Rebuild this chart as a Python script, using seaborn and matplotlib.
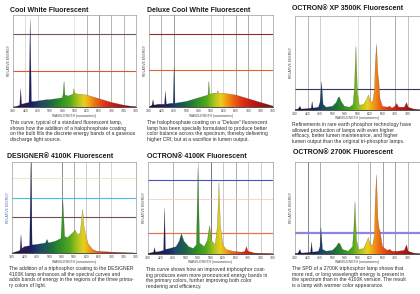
import numpy as np
import matplotlib.pyplot as plt
from matplotlib.colors import LinearSegmentedColormap
import seaborn as sns

sns.set_style("white")
plt.rcParams['font.family'] = ['Liberation Sans', 'DejaVu Sans']

# ---- spectra (wavelength nm, relative power % of plot height) ----
COOL_WL = [380, 395, 402, 405, 408, 420, 432, 436, 440, 450, 470, 490, 500, 520, 540, 543, 546, 549, 560,
           575, 578, 581, 590, 600, 620, 640, 660, 680, 700, 720, 740, 760, 780]
COOL_PW = [0, 1, 2, 20, 3, 4, 5, 95, 6, 6, 7, 8, 8, 9, 10, 14, 28, 13, 12,
           14, 20, 15, 14, 14, 13, 11, 9, 7, 5, 3.5, 2, 1, 0.5]

DELUXE_WL = [380, 390, 393, 396, 410, 430, 433, 436, 450, 458, 461, 464, 480, 500, 520, 540, 560, 570, 573,
             576, 590, 599, 602, 605, 620, 640, 660, 680, 700, 720, 740, 760, 780]
DELUXE_PW = [0, 2, 8, 2, 3, 3, 17, 3, 4, 4, 44, 4, 5, 6, 8, 10, 12, 13, 28,
             14, 15, 15, 18, 15, 15, 14, 13, 11, 9, 7, 5, 3, 1]

XP35_WL = [380, 390, 396, 400, 420, 432, 435, 438, 455, 460, 465, 470, 480, 500, 512, 518, 522, 528, 538, 555,
           566, 570, 575, 580, 586, 600, 610, 615, 620, 628, 634, 637, 641, 645, 648, 652, 660, 675, 684, 690,
           700, 705, 712, 730, 737, 742, 760, 780]
XP35_PW = [0.5, 1, 4, 1, 1.5, 2, 9, 2, 3, 8, 30, 6, 3, 4, 8, 13, 14, 9, 4, 3,
           6, 22, 68, 18, 5, 6, 12, 16, 10, 8, 20, 50, 70, 40, 31, 12, 4, 3, 4, 2,
           4, 7, 3, 3, 8, 3, 1, 0.5]

DES41_WL = [380, 400, 406, 409, 412, 420, 437, 441, 445, 450, 470, 488, 493, 498, 520, 538, 544, 550, 560,
            575, 584, 592, 600, 604, 608, 612, 618, 626, 640, 653, 700, 780]
DES41_PW = [0, 2, 3, 20, 5, 7, 8, 99, 9, 9, 10, 11, 15, 11, 13, 16, 59, 18, 17,
            22, 25, 20, 22, 35, 48, 30, 20, 10, 4, 2, 1, 0]

OCT41_WL = [380, 398, 401, 404, 420, 430, 433, 436, 450, 470, 480, 487, 495, 510, 525, 535, 540, 545, 560,
            570, 577, 585, 595, 602, 607, 612, 620, 630, 650, 680, 690, 695, 700, 720, 780]
OCT41_PW = [0.5, 2, 7, 2, 3, 4, 50, 5, 6, 8, 14, 22, 14, 8, 6, 10, 93, 12, 8,
            15, 31, 14, 10, 30, 78, 30, 10, 5, 3, 2, 3, 8, 3, 1, 0.5]

OCT27_WL = [380, 390, 396, 400, 420, 430, 433, 436, 455, 460, 463, 468, 480, 500, 512, 519, 524, 532, 550,
            564, 568, 572, 577, 584, 600, 610, 615, 620, 628, 634, 637, 641, 645, 649, 652, 660, 675, 684, 690,
            710, 730, 737, 742, 760, 780]
OCT27_PW = [0.5, 1, 5, 1, 1.5, 2, 13, 2, 3, 8, 29, 5, 3, 4, 8, 12, 11, 5, 3,
            8, 25, 57, 15, 5, 6, 14, 18, 11, 9, 20, 60, 86, 40, 28, 25, 8, 4, 5, 3,
            3, 4, 10, 3, 1, 0.5]

TITLES = ["Cool White Fluorescent", "Deluxe Cool White Fluorescent", "OCTRON\u00ae XP 3500K Fluorescent",
          "DESIGNER\u00ae 4100K Fluorescent", "OCTRON\u00ae 4100K Fluorescent", "OCTRON\u00ae 2700K Fluorescent"]

CAPTIONS = [
    "This curve, typical of a standard fluorescent lamp,\nshows how the addition of a halophosphate coating\n"
    "on the bulb fills the discrete energy bands of a gaseous\ndischarge light source.",
    "The halophosphate coating on a \u201cDeluxe\u201d fluorescent\nlamp has been specially formulated to produce better\n"
    "color balance across the spectrum, thereby delivering\nhigher CRI, but at a sacrifice in lumen output.",
    "Refinements in rare earth phosphor technology have\nallowed production of lamps with even higher\n"
    "efficacy, better lumen maintenance, and higher\nlumen output than the original tri-phosphor lamps.",
    "The addition of a triphosphor coating to the DESIGNER\n4100K lamp enhances all the spectral curves and\n"
    "adds bands of energy in the regions of the three prima-\nry colors of light.",
    "This curve shows how an improved triphosphor coat-\ning produces even more pronounced energy bands in\n"
    "the primary colors, further improving both color\nrendering and efficiency.",
    "The SPD of a 2700K triphosphor lamp shows that\nmore red, or long wavelength energy is present in\n"
    "the spectrum than in the 4100K version. The result\nis a lamp with warmer color appearance.",
]

TICKS = [380, 420, 460, 500, 540, 580, 620, 660, 700, 740, 780]

# rainbow used under the curves
SPEC = LinearSegmentedColormap.from_list('spd', [
    (0.000, '#140a22'), (0.075, '#2c1850'), (0.150, '#1a2060'), (0.225, '#1c4a66'),
    (0.300, '#1d6448'), (0.375, '#2a8a28'), (0.4625, '#50a820'), (0.525, '#a8c41c'),
    (0.580, '#e8d020'), (0.625, '#f0a012'), (0.675, '#ee6a14'), (0.750, '#dc3414'),
    (0.850, '#c01414'), (1.000, '#7a1010')])

# [left, top, right, bottom] in pixels of the page
BOXES = [(13, 15, 136, 107), (149, 15, 273, 107), (295, 16, 420, 110),
         (12, 162, 136, 253), (148, 162, 273, 254), (295, 162, 420, 254)]
TITLE_XY = [(10, 10), (147, 10), (292, 9), (7, 157), (147, 156), (293, 152)]
CAP_XY = [(10, 120), (147, 120), (292, 122), (9, 266), (146, 267), (292, 266)]
HLINES = [[(79, '#6e5858', 0.8), (39, '#d85a34', 0.8)],
          [(79, '#8e2c2c', 0.8), (40, '#e2642c', 0.8)],
          [(22, '#3c3258', 0.8)],
          [(82, '#ece4a8', 0.6), (60, '#44c2e2', 0.8), (40, '#6e5050', 0.8)],
          [(80, '#4454c4', 0.8), (60, '#f0c8b0', 0.5), (23, '#e27452', 0.9)],
          [(23, '#8a86e6', 1.6)]]
VLINES = [{420: '#d8d8d8', 460: '#d0d0d0', 580: '#e4e4e4', 620: '#a8a8a8', 660: '#888888', 700: '#a8a8a8', 740: '#b0b0b0'},
          {420: '#a8a8a8', 460: '#909090', 580: '#c8c8c8', 620: '#d0d0d0', 660: '#9a9a9a', 700: '#a0a0a0', 740: '#b4b4b4'},
          {420: '#a8a8a8', 460: '#c8c8c8', 580: '#d8d8d8', 620: '#a0a0a0', 700: '#a0a0a0', 740: '#b8b8b8'},
          {440: '#707070', 540: '#787878', 580: '#a0a0a0', 620: '#c8c8c8', 660: '#a8a8a8', 700: '#d0d0d0'},
          {460: '#a8a8a8', 540: '#c8c8c8', 580: '#606060', 620: '#c0c0c0', 660: '#a0a0a0', 700: '#c0c0c0', 740: '#c8c8c8'},
          {420: '#707070', 460: '#a0a0a0', 580: '#c8c8c8', 620: '#a0a0a0', 660: '#909090', 700: '#909090', 740: '#b0b0b0'}]

SERIES = [(COOL_WL, COOL_PW), (DELUXE_WL, DELUXE_PW), (XP35_WL, XP35_PW),
          (DES41_WL, DES41_PW), (OCT41_WL, OCT41_PW), (OCT27_WL, OCT27_PW)]

W, H = 420, 294
fig = plt.figure(figsize=(W / 100, H / 100), dpi=100, facecolor='white')

for i, (wl, pw) in enumerate(SERIES):
    l, t, r, b = BOXES[i]
    ax = fig.add_axes([l / W, 1 - b / H, (r - l) / W, (b - t) / H])
    ax.set_facecolor('white')

    for x, c in VLINES[i].items():
        ax.axvline(x, color=c, lw=0.6, zorder=1)
    for y, c, lw in HLINES[i]:
        ax.axhline(y, color=c, lw=lw, zorder=1)

    poly = ax.fill_between(wl, pw, 0, color='none', lw=0)
    grad = np.linspace(380, 780, 400)[None, :]
    im = ax.imshow(grad, extent=[380, 780, 0, 100], aspect='auto', cmap=SPEC,
                   vmin=380, vmax=780, origin='lower', zorder=3)
    im.set_clip_path(poly.get_paths()[0], transform=ax.transData)
    sns.lineplot(x=wl, y=pw, ax=ax, color='#303030', lw=0.25, alpha=0.5, zorder=4)

    ax.set_xlim(380, 780); ax.set_ylim(0, 100)
    labels = [str(t) for t in TICKS]
    if r >= 420:
        labels[-1] = ''   # runs off the page edge in the scan
    ax.set_xticks(TICKS); ax.set_xticklabels(labels)
    ax.set_yticks([])
    ax.tick_params(axis='x', labelsize=2.4, length=0, pad=1.2, colors='#444444')
    ax.set_xlabel('WAVELENGTH (nanometers)', fontsize=2.4, labelpad=0.6, color='#444444')
    ax.set_ylabel('RELATIVE ENERGY', fontsize=2.4, labelpad=1.5, color='#4a6aa8' if i == 3 else '#444444')
    for s in ['top', 'left', 'right']:
        ax.spines[s].set_color('#9a9a9a'); ax.spines[s].set_linewidth(0.5)
    ax.spines['bottom'].set_color('#333333'); ax.spines['bottom'].set_linewidth(0.6)

    tx, ty = TITLE_XY[i]
    fig.text(tx / W, 1 - ty / H, TITLES[i], fontsize=5.0, fontweight='bold', color='#1a1a1a',
             ha='left', va='center')
    cx, cy = CAP_XY[i]
    fig.text(cx / W, 1 - cy / H, CAPTIONS[i], fontsize=3.6, color='#2e2e2e', ha='left', va='top',
             linespacing=1.15)

fig.savefig('out.png', dpi=100, facecolor='white')
